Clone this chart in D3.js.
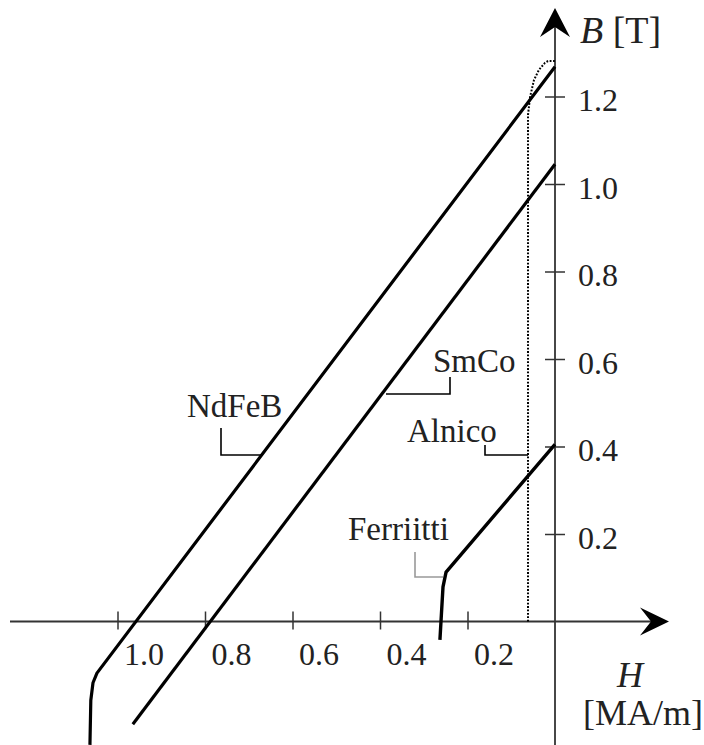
<!DOCTYPE html>
<html>
<head>
<meta charset="utf-8">
<script src="https://cdn.jsdelivr.net/npm/d3@7"></script>
<style>
  body { margin: 0; background: #fff; }
  svg { display: block; }
  text { font-family: "Liberation Serif", "Times New Roman", serif; fill: #222; }
</style>
</head>
<body>
<div id="chart"></div>
<script>
// Demagnetisation curves, H in MA/m (drawn to the left), B in T
const ndfebH = [0, 1.047, 1.056, 1.061, 1.063];
const ndfebB = [1.268, -0.118, -0.14, -0.18, -0.282];

const smcoH = [0, 0.965];
const smcoB = [1.045, -0.235];

const ferriH = [0, 0.249, 0.256, 0.2606, 0.263];
const ferriB = [0.405, 0.113, 0.079, 0, -0.042];

const alnicoH = [0.0617, 0.0617, 0.057, 0.048, 0.0366, 0.0229, 0.016, 0];
const alnicoB = [0, 1.158, 1.199, 1.238, 1.261, 1.277, 1.281, 1.281];

const hTicks = [0.2, 0.4, 0.6, 0.8, 1.0];
const bTicks = [0.2, 0.4, 0.6, 0.8, 1.0, 1.2];

const width = 704, height = 745;

const svg = d3.select('#chart').append('svg')
  .attr('width', width)
  .attr('height', height);

// H grows to the left
const x = d3.scaleLinear().domain([0, 1]).range([555, 117.5]);
const y = d3.scaleLinear().domain([0, 1]).range([621.5, 184]);

const axisColor = '#333';

// horizontal axis
const xAxis = svg.append('g')
  .attr('transform', `translate(0,${y(0)})`)
  .call(d3.axisBottom(x).tickValues(hTicks).tickSize(0).tickFormat(d3.format('.1f')));
xAxis.select('.domain').remove();
xAxis.selectAll('.tick line')
  .attr('y1', -10).attr('y2', 8)
  .attr('stroke', axisColor).attr('stroke-width', 1.5);
xAxis.selectAll('.tick text')
  .attr('y', 43).attr('dy', 0).attr('dx', 26)
  .attr('text-anchor', 'middle')
  .style('font-size', '32px')
  .style('font-family', '"Liberation Serif", serif')
  .attr('fill', '#222');

svg.append('line')
  .attr('x1', 10).attr('x2', 655)
  .attr('y1', y(0)).attr('y2', y(0))
  .attr('stroke', axisColor).attr('stroke-width', 1.8);

// vertical axis
const yAxis = svg.append('g')
  .attr('transform', `translate(${x(0)},0)`)
  .call(d3.axisRight(y).tickValues(bTicks).tickSize(0).tickFormat(d3.format('.1f')));
yAxis.select('.domain').remove();
yAxis.selectAll('.tick line')
  .attr('x1', -10).attr('x2', 10)
  .attr('stroke', axisColor).attr('stroke-width', 1.5);
yAxis.selectAll('.tick text')
  .attr('x', 23).attr('dy', 14)
  .attr('text-anchor', 'start')
  .style('font-size', '32px')
  .style('font-family', '"Liberation Serif", serif')
  .attr('fill', '#222');

svg.append('line')
  .attr('x1', x(0)).attr('x2', x(0))
  .attr('y1', 745).attr('y2', 24)
  .attr('stroke', axisColor).attr('stroke-width', 1.8);

// arrow heads
const ax = x(0), ay = y(0);
svg.append('path')
  .attr('d', `M${ax},8 L${ax + 15},37 L${ax},27 L${ax - 15},37 Z`)
  .attr('fill', '#000');
svg.append('path')
  .attr('d', `M669,${ay} L640,${ay - 14} L651,${ay} L640,${ay + 14} Z`)
  .attr('fill', '#000');

// axis titles
const bTitle = svg.append('text').attr('x', 580).attr('y', 43).style('font-size', '38px');
bTitle.append('tspan').style('font-style', 'italic').text('B');
bTitle.append('tspan').text(' [T]');

svg.append('text').attr('x', 617).attr('y', 687)
  .style('font-size', '36px').style('font-style', 'italic').text('H');
svg.append('text').attr('x', 583).attr('y', 725)
  .style('font-size', '36px').text('[MA/m]');

// curves
const line = d3.line().x(d => x(d[0])).y(d => y(d[1]));

function draw(hs, bs, opts) {
  return svg.append('path')
    .datum(hs.map((h, i) => [h, bs[i]]))
    .attr('d', line)
    .attr('fill', 'none')
    .attr('stroke', '#000')
    .attr('stroke-width', opts.w)
    .attr('stroke-linejoin', 'round')
    .attr('stroke-dasharray', opts.dash || null);
}

draw(alnicoH, alnicoB, { w: 2, dash: '1.8,1.6' });
draw(ndfebH, ndfebB, { w: 3.2 });
draw(smcoH, smcoB, { w: 3.2 });
draw(ferriH, ferriB, { w: 3.4 });

// labels with leader lines (pixel layout)
const labels = [
  { text: 'NdFeB', tx: 187, ty: 417, path: [[221, 428], [221, 455], [263, 455]], color: '#000' },
  { text: 'SmCo', tx: 433, ty: 372, path: [[450, 377], [450, 394], [386, 394]], color: '#000' },
  { text: 'Alnico', tx: 407, ty: 442, path: [[485, 445], [485, 455], [528, 455]], color: '#000' },
  { text: 'Ferriitti', tx: 348, ty: 540, path: [[415, 552], [415, 577], [443, 577]], color: '#999' }
];

labels.forEach(l => {
  svg.append('text').attr('x', l.tx).attr('y', l.ty)
    .style('font-size', '33px').text(l.text);
  svg.append('path')
    .attr('d', d3.line()(l.path))
    .attr('fill', 'none')
    .attr('stroke', l.color)
    .attr('stroke-width', 1.6);
});
</script>
</body>
</html>
